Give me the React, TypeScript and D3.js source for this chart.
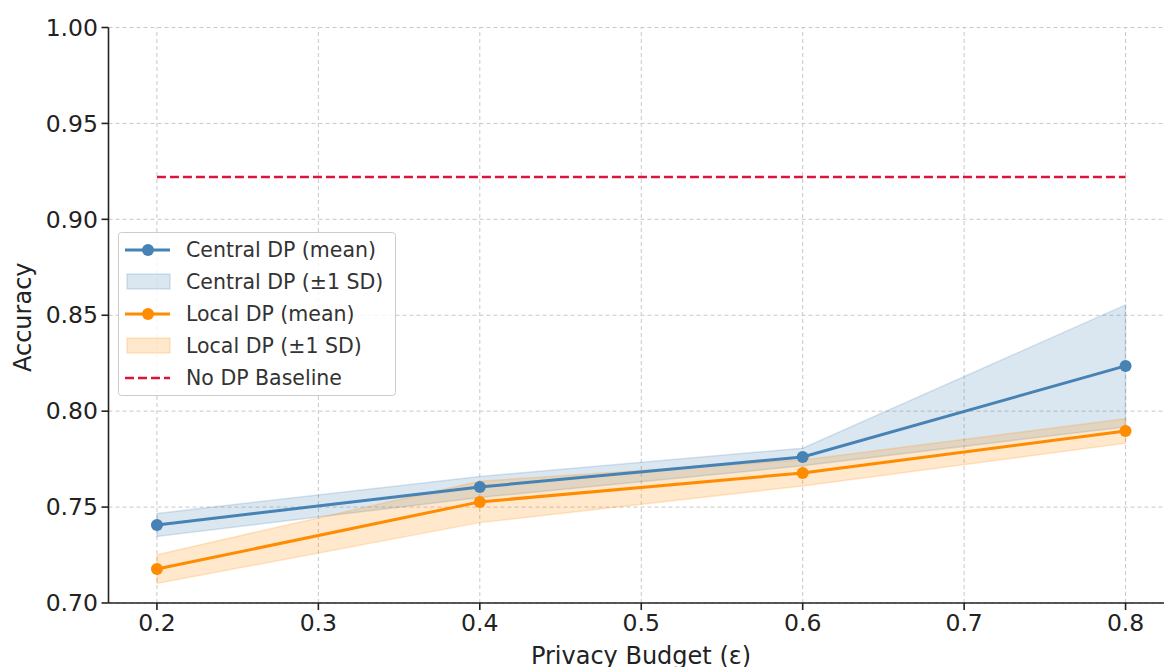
import React from "react";
import * as d3 from "d3";

const epsilons = [0.2, 0.4, 0.6, 0.8];
const centralMean = [0.7407, 0.7605, 0.7761, 0.8236];
const centralSD = [0.006, 0.0055, 0.0046, 0.0318];
const localMean = [0.7177, 0.7527, 0.7678, 0.7897];
const localSD = [0.0075, 0.0108, 0.0068, 0.0064];
const baseline = 0.9221;
const xTicks = [0.2, 0.3, 0.4, 0.5, 0.6, 0.7, 0.8];
const yTicks = [0.7, 0.75, 0.8, 0.85, 0.9, 0.95, 1.0];

const W = 1164;
const H = 667;
const FONT = "DejaVu Sans, sans-serif";

export default function App() {
  const x = d3.scaleLinear().domain([0.17, 0.83]).range([108.5, 1174]);
  const y = d3.scaleLinear().domain([0.7, 1.0]).range([603, 27.5]);
  const line = d3
    .line<number>()
    .x((_, i) => x(epsilons[i]))
    .y((d) => y(d));
  const area = (m: number[], s: number[]) =>
    d3
      .area<number>()
      .x((_, i) => x(epsilons[i]))
      .y0((d, i) => y(d - s[i]))
      .y1((d, i) => y(d + s[i]))(m) as string;

  const blue = "#4682b4";
  const orange = "#ff8c00";
  const red = "#dc143c";
  const grid = "#c8c8c8";

  const legendItems = [
    { label: "Central DP (mean)", type: "line", color: blue },
    { label: "Central DP (\u00b11 SD)", type: "patch", color: blue },
    { label: "Local DP (mean)", type: "line", color: orange },
    { label: "Local DP (\u00b11 SD)", type: "patch", color: orange },
    { label: "No DP Baseline", type: "dash", color: red },
  ];

  return (
    <svg
      width={W}
      height={H}
      style={{ position: "absolute", left: 0, top: 0, background: "#fff" }}
      fontFamily={FONT}
    >
      <defs>
        <clipPath id="clip">
          <rect x={108.5} y={27.5} width={1174 - 108.5} height={603 - 27.5} />
        </clipPath>
      </defs>
      {/* grid */}
      {xTicks.map((t) => (
        <line
          key={"gx" + t}
          x1={x(t)}
          x2={x(t)}
          y1={y(0.7)}
          y2={y(1.0)}
          stroke={grid}
          strokeWidth={1}
          strokeDasharray="4,3"
        />
      ))}
      {yTicks.map((t) => (
        <line
          key={"gy" + t}
          x1={x(0.17)}
          x2={x(0.83)}
          y1={y(t)}
          y2={y(t)}
          stroke={grid}
          strokeWidth={1}
          strokeDasharray="4,3"
        />
      ))}
      <g clipPath="url(#clip)">
        <path d={area(centralMean, centralSD)} fill={blue} fillOpacity={0.2} stroke={blue} strokeOpacity={0.2} strokeWidth={1.5} />
        <path d={area(localMean, localSD)} fill={orange} fillOpacity={0.2} stroke={orange} strokeOpacity={0.2} strokeWidth={1.5} />
        <line
          x1={x(0.2)}
          x2={x(0.8)}
          y1={y(baseline)}
          y2={y(baseline)}
          stroke={red}
          strokeWidth={2.5}
          strokeDasharray="9,4"
        />
        <path d={line(centralMean) as string} fill="none" stroke={blue} strokeWidth={3} />
        {centralMean.map((v, i) => (
          <circle key={"cm" + i} cx={x(epsilons[i])} cy={y(v)} r={6} fill={blue} />
        ))}
        <path d={line(localMean) as string} fill="none" stroke={orange} strokeWidth={3} />
        {localMean.map((v, i) => (
          <circle key={"lm" + i} cx={x(epsilons[i])} cy={y(v)} r={6} fill={orange} />
        ))}
      </g>
      {/* spines */}
      <line x1={108.5} x2={108.5} y1={27.5} y2={603} stroke="#222" strokeWidth={1.6} />
      <line x1={108.5} x2={1174} y1={603} y2={603} stroke="#222" strokeWidth={1.6} />
      {/* y ticks */}
      {yTicks.map((t) => (
        <g key={"yt" + t}>
          <line x1={101.5} x2={108.5} y1={y(t)} y2={y(t)} stroke="#222" strokeWidth={1.6} />
          <text x={98} y={y(t)} dy="0.35em" textAnchor="end" fontSize={23.5} fill="#222">
            {t.toFixed(2)}
          </text>
        </g>
      ))}
      {xTicks.map((t) => (
        <g key={"xt" + t}>
          <line x1={x(t)} x2={x(t)} y1={603} y2={610} stroke="#222" strokeWidth={1.6} />
          <text x={x(t)} y={631} textAnchor="middle" fontSize={23.5} fill="#222">
            {t.toFixed(1)}
          </text>
        </g>
      ))}
      <text x={641} y={664} textAnchor="middle" fontSize={24} fill="#222">
        Privacy Budget (ε)
      </text>
      <text
        transform={`translate(31,${(27.5 + 603) / 2 + 2}) rotate(-90)`}
        textAnchor="middle"
        fontSize={24}
        fill="#222"
      >
        Accuracy
      </text>
      {/* legend */}
      <g>
        <rect x={118.5} y={232.5} width={277} height={163} rx={3} fill="#fff" fillOpacity={0.8} stroke="#ccc" strokeWidth={1} />
        {legendItems.map((it, i) => {
          const cy = 250 + i * 32;
          return (
            <g key={it.label}>
              {it.type === "line" && (
                <g>
                  <line x1={125} x2={170} y1={cy} y2={cy} stroke={it.color} strokeWidth={3} />
                  <circle cx={148} cy={cy} r={6} fill={it.color} />
                </g>
              )}
              {it.type === "patch" && (
                <rect x={127} y={cy - 8} width={43} height={15} fill={it.color} fillOpacity={0.2} stroke={it.color} strokeOpacity={0.2} strokeWidth={1.5} />
              )}
              {it.type === "dash" && (
                <line x1={125} x2={170} y1={cy} y2={cy} stroke={it.color} strokeWidth={2.5} strokeDasharray="9,4" />
              )}
              <text x={186} y={cy} dy="0.35em" fontSize={20.5} fill="#333">
                {it.label}
              </text>
            </g>
          );
        })}
      </g>
    </svg>
  );
}
